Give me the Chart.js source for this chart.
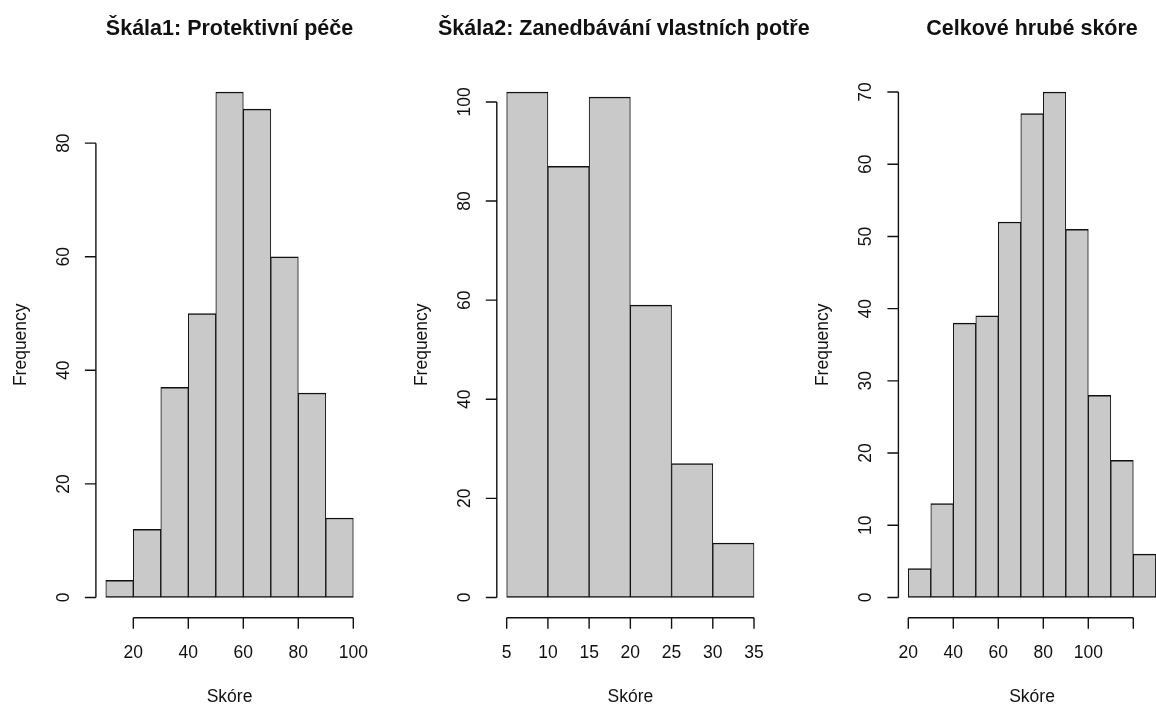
<!DOCTYPE html>
<html lang="cs">
<head>
<meta charset="utf-8">
<title>Histogramy skóre</title>
<script src="https://cdn.jsdelivr.net/npm/chart.js@4.4.1/dist/chart.umd.min.js"></script>
<style>
  html, body { margin: 0; padding: 0; background: #fff; }
  #wrap { position: relative; width: 1156px; height: 704px; overflow: hidden; }
  canvas { position: absolute; top: 0; }
</style>
</head>
<body>
<div id="wrap">
  <canvas id="c1"></canvas>
  <canvas id="c2"></canvas>
  <canvas id="c3"></canvas>
</div>
<script>
// ---- data ----
const titles = ['Škála1: Protektivní péče', 'Škála2: Zanedbávání vlastních potřeb', 'Celkové hrubé skóre'];
const xLabel = 'Skóre';
const yLabel = 'Frequency';

const breaks1 = [10, 20, 30, 40, 50, 60, 70, 80, 90, 100];
const counts1 = [3, 12, 37, 50, 89, 86, 60, 36, 14];
const xTicks1 = [20, 40, 60, 80, 100];
const yTicks1 = [0, 20, 40, 60, 80];

const breaks2 = [5, 10, 15, 20, 25, 30, 35];
const counts2 = [102, 87, 101, 59, 27, 11];
const xTicks2 = [5, 10, 15, 20, 25, 30, 35];
const yTicks2 = [0, 20, 40, 60, 80, 100];

const breaks3 = [20, 30, 40, 50, 60, 70, 80, 90, 100, 110, 120, 130];
const counts3 = [4, 13, 38, 39, 52, 67, 70, 51, 28, 19, 6];
const xTicks3 = [20, 40, 60, 80, 100, 120];
const xTickLabels3 = ['20', '40', '60', '80', '100', '']; // 120 nema popisek
const yTicks3 = [0, 10, 20, 30, 40, 50, 60, 70];

// ---- layout (page pixels) ----
const H = 704;
const PLOT_TOP = 71.8, PLOT_BOTTOM = 617.7;
const FONT = '"Liberation Sans", Arial, Helvetica, sans-serif';
const INK = '#111';
const BAR_FILL = '#c9c9c9';
const TICK = 11;

// canvas right edge = right edge of each figure region (title of panel 2 is cut there)
const panels = [
  { id: 'c1', left: 0,   width: 385, plotL: 95.9,  plotR: 363.2,
    breaks: breaks1, counts: counts1, xTicks: xTicks1, xLabels: null, yTicks: yTicks1, title: titles[0] },
  { id: 'c2', left: 385, width: 424, plotL: 496.8, plotR: 763.9,
    breaks: breaks2, counts: counts2, xTicks: xTicks2, xLabels: null, yTicks: yTicks2, title: titles[1] },
  { id: 'c3', left: 771, width: 440, plotL: 898.4, plotR: 1165.7,
    breaks: breaks3, counts: counts3, xTicks: xTicks3, xLabels: xTickLabels3, yTicks: yTicks3, title: titles[2] },
];

// R-style axes, labels and title drawn through the chart's scales
const baseAxes = {
  id: 'baseAxes',
  afterDraw(chart, args, opts) {
    const { ctx, chartArea: a } = chart;
    const x = chart.scales.x, y = chart.scales.y;
    ctx.save();
    ctx.strokeStyle = INK;
    ctx.fillStyle = INK;
    ctx.lineWidth = 1.4;

    // osa x - jen od prvni do posledni znacky
    const yb = a.bottom;
    ctx.beginPath();
    ctx.moveTo(x.getPixelForValue(opts.xTicks[0]), yb);
    ctx.lineTo(x.getPixelForValue(opts.xTicks[opts.xTicks.length - 1]), yb);
    opts.xTicks.forEach(v => {
      const px = x.getPixelForValue(v);
      ctx.moveTo(px, yb);
      ctx.lineTo(px, yb + TICK);
    });
    // osa y
    const xl = a.left;
    ctx.moveTo(xl, y.getPixelForValue(opts.yTicks[0]));
    ctx.lineTo(xl, y.getPixelForValue(opts.yTicks[opts.yTicks.length - 1]));
    opts.yTicks.forEach(v => {
      const py = y.getPixelForValue(v);
      ctx.moveTo(xl, py);
      ctx.lineTo(xl - TICK, py);
    });
    ctx.stroke();

    ctx.font = '17.5px ' + FONT;
    ctx.textAlign = 'center';
    ctx.textBaseline = 'alphabetic';
    opts.xTicks.forEach((v, i) => {
      const txt = opts.xLabels ? opts.xLabels[i] : String(v);
      ctx.fillText(txt, x.getPixelForValue(v), yb + 40);
    });
    ctx.fillText(xLabel, (a.left + a.right) / 2, yb + 84);

    opts.yTicks.forEach(v => {
      ctx.save();
      ctx.translate(xl - 27, y.getPixelForValue(v));
      ctx.rotate(-Math.PI / 2);
      ctx.fillText(String(v), 0, 0);
      ctx.restore();
    });
    ctx.save();
    ctx.translate(xl - 70, (a.top + a.bottom) / 2);
    ctx.rotate(-Math.PI / 2);
    ctx.fillText(yLabel, 0, 0);
    ctx.restore();

    ctx.font = 'bold 21.5px ' + FONT;
    ctx.fillText(opts.title, (a.left + a.right) / 2, a.top - 37);
    ctx.restore();
  }
};

panels.forEach(p => {
  const canvas = document.getElementById(p.id);
  canvas.width = p.width;
  canvas.height = H;
  canvas.style.left = p.left + 'px';

  const span = p.breaks[p.breaks.length - 1] - p.breaks[0];
  const ymax = Math.max(...p.counts);
  const bins = p.counts.map((c, i) => ({ x: (p.breaks[i] + p.breaks[i + 1]) / 2, y: c }));

  new Chart(canvas.getContext('2d'), {
    type: 'bar',
    data: {
      datasets: [{
        data: bins,
        backgroundColor: BAR_FILL,
        borderColor: INK,
        borderWidth: { top: 1.5, bottom: 1.5, left: 1, right: 1 },
        borderSkipped: false,
        barPercentage: 1,
        categoryPercentage: 1,
      }]
    },
    options: {
      responsive: false,
      animation: false,
      devicePixelRatio: 1,
      layout: {
        padding: {
          left: p.plotL - p.left,
          right: p.left + p.width - p.plotR,
          top: PLOT_TOP,
          bottom: H - PLOT_BOTTOM,
        }
      },
      scales: {
        x: {
          type: 'linear', display: false, offset: false,
          min: p.breaks[0] - 0.04 * span,
          max: p.breaks[p.breaks.length - 1] + 0.04 * span,
          // sirka sloupce = sirka tridy
          afterBuildTicks: s => { s.ticks = p.breaks.map(v => ({ value: v })); }
        },
        y: { display: false, min: -0.04 * ymax, max: 1.04 * ymax }
      },
      plugins: {
        legend: { display: false },
        tooltip: { enabled: false },
        baseAxes: { title: p.title, xTicks: p.xTicks, xLabels: p.xLabels, yTicks: p.yTicks }
      }
    },
    plugins: [baseAxes]
  });
});
</script>
</body>
</html>
